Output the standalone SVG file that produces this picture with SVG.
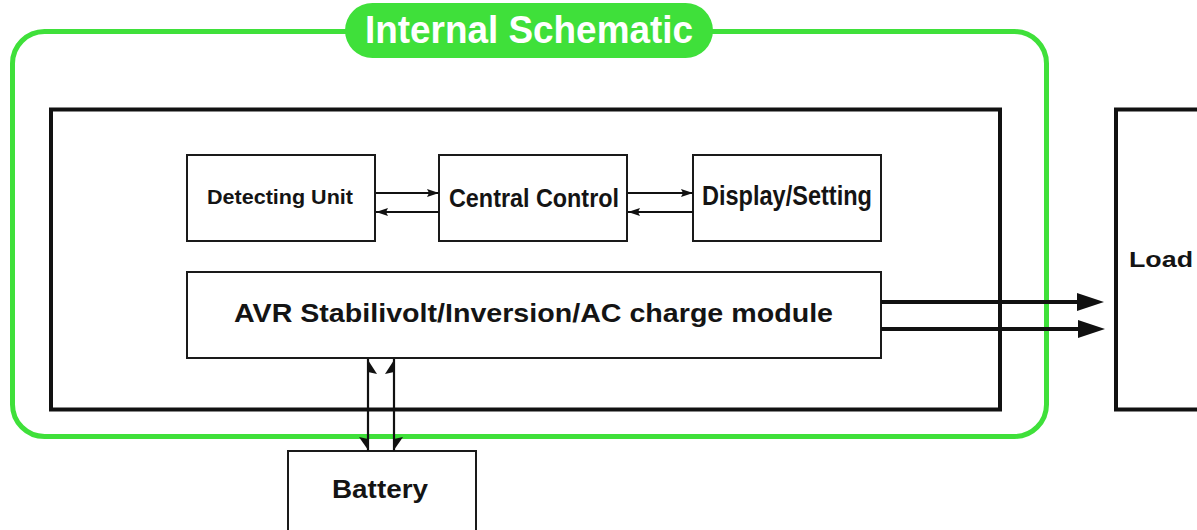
<svg xmlns="http://www.w3.org/2000/svg" width="1197" height="530" viewBox="0 0 1197 530">
  <defs>
    <style>
      .box { fill: #fff; stroke: #1a1a1a; stroke-width: 2; }
      .thick { fill: none; stroke: #111; stroke-width: 4; }
      .lbl { font-family: "Liberation Sans", Arial, sans-serif; font-weight: bold; fill: #141414; text-anchor: middle; }
      .ln { stroke: #111; stroke-width: 2.2; fill: none; }
      .lnb { stroke: #111; stroke-width: 4; fill: none; }
      .head { fill: #111; }
    </style>
    <marker id="sm" viewBox="0 0 12 8" refX="12" refY="4" markerWidth="12" markerHeight="8" markerUnits="userSpaceOnUse" orient="auto">
      <path d="M0,0 L12,4 L0,8 L2,4 Z" fill="#111"/>
    </marker>
  </defs>
  <rect width="1197" height="530" fill="#fff"/>

  <g id="frame">
    <rect x="12.5" y="31.5" width="1034" height="405" rx="32" ry="32" fill="none" stroke="#3fe03a" stroke-width="5"/>
    <rect x="345" y="3" width="368" height="55" rx="27.5" ry="27.5" fill="#3fe03a"/>
    <text x="529" y="43" class="lbl" style="fill:#fff" font-size="38" textLength="328" lengthAdjust="spacingAndGlyphs">Internal Schematic</text>
  </g>

  <g id="inner">
    <rect x="51" y="109.5" width="949" height="300" class="thick"/>
  </g>

  <g id="detecting">
    <rect x="187" y="155" width="188" height="86" class="box"/>
    <text x="280" y="204" class="lbl" font-size="20.5" textLength="146" lengthAdjust="spacingAndGlyphs">Detecting Unit</text>
  </g>

  <g id="central">
    <rect x="439" y="155" width="188" height="86" class="box"/>
    <text x="534" y="207" class="lbl" font-size="26.5" textLength="170" lengthAdjust="spacingAndGlyphs">Central Control</text>
  </g>

  <g id="display">
    <rect x="693" y="155" width="188" height="86" class="box"/>
    <text x="787" y="205" class="lbl" font-size="27" textLength="170" lengthAdjust="spacingAndGlyphs">Display/Setting</text>
  </g>

  <g id="avr">
    <rect x="187" y="272" width="694" height="86" class="box"/>
    <text x="533.5" y="322" class="lbl" font-size="26" textLength="599" lengthAdjust="spacingAndGlyphs">AVR Stabilivolt/Inversion/AC charge module</text>
  </g>

  <g id="load">
    <rect x="1116" y="109.5" width="200" height="300" class="thick"/>
    <text x="1161" y="267" class="lbl" font-size="22.5" textLength="64" lengthAdjust="spacingAndGlyphs">Load</text>
  </g>

  <g id="battery">
    <rect x="288" y="451" width="188" height="120" class="box"/>
    <text x="380" y="498" class="lbl" font-size="25" textLength="96" lengthAdjust="spacingAndGlyphs">Battery</text>
  </g>

  <g id="connectors">
    <line x1="376" y1="193" x2="439" y2="193" class="ln" marker-end="url(#sm)"/>
    <line x1="439" y1="212" x2="376" y2="212" class="ln" marker-end="url(#sm)"/>
    <line x1="628" y1="193" x2="693" y2="193" class="ln" marker-end="url(#sm)"/>
    <line x1="693" y1="212" x2="628" y2="212" class="ln" marker-end="url(#sm)"/>

    <line x1="881" y1="302" x2="1080" y2="302" class="lnb"/>
    <polygon points="1077,293 1104,302 1077,311" class="head"/>
    <line x1="881" y1="329" x2="1080" y2="329" class="lnb"/>
    <polygon points="1078,320 1105,329 1078,338" class="head"/>

    <line x1="368" y1="359" x2="368" y2="451" class="ln"/>
    <line x1="394" y1="359" x2="394" y2="451" class="ln"/>
    <polygon points="368,360 377,374 368,372" class="head"/>
    <polygon points="394,360 385,374 394,372" class="head"/>
    <polygon points="368,450 359,437 368,439" class="head"/>
    <polygon points="394,450 403,437 394,439" class="head"/>
  </g>
</svg>
